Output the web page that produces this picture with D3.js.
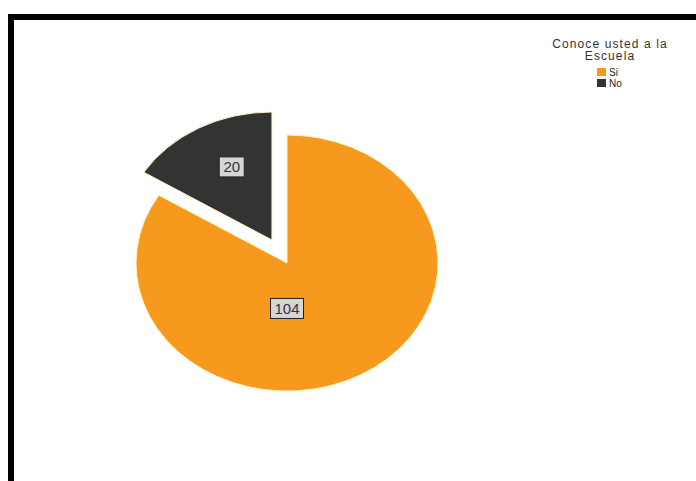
<!DOCTYPE html>
<html>
<head>
<meta charset="utf-8">
<script src="https://cdn.jsdelivr.net/npm/d3@7"></script>
<style>
  html, body { margin: 0; padding: 0; background: #fff; }
  svg { display: block; }
</style>
</head>
<body>
<svg id="chart" width="696" height="481"></svg>
<script>
// Survey answers: "Conoce usted a la Escuela"
const categories = ["Si", "No"];
const values = [104, 20];
const colors = ["#f7991c", "#333333"];
const legendTitle = ["Conoce usted a la", "Escuela"];

const W = 696, H = 481;
const svg = d3.select("#chart");

// Frame: heavy black rule along the top and left edges
svg.append("rect").attr("x", 8).attr("y", 14).attr("width", W - 8).attr("height", 6).attr("fill", "#000");
svg.append("rect").attr("x", 8).attr("y", 14).attr("width", 6).attr("height", H - 14).attr("fill", "#000");

// Pie geometry (tilted: vertical squash)
const cx = 287, cy = 263, R = 151, tilt = 0.848;
const explode = 31;          // offset of the separated slice
const smallLabelR = R * 0.63;
const bigLabelR = R * 0.355;

const pie = d3.pie().sort(null).value(d => d.value);
const arcs = pie(categories.map((c, i) => ({ name: c, value: values[i], color: colors[i] })));
const arc = d3.arc().innerRadius(0).outerRadius(R);

const g = svg.append("g").attr("transform", `translate(${cx},${cy}) scale(1,${tilt})`);

// the smallest slice is pulled out from the centre
const minVal = d3.min(values);
function sliceOffset(d) {
  if (d.data.value !== minVal) return [0, 0];
  const a = (d.startAngle + d.endAngle) / 2;
  return [Math.sin(a) * explode, -Math.cos(a) * explode];
}

g.selectAll("path.slice")
  .data(arcs)
  .join("path")
  .attr("class", "slice")
  .attr("d", arc)
  .attr("transform", d => { const o = sliceOffset(d); return `translate(${o[0]},${o[1]})`; })
  .attr("fill", d => d.data.color)
  .attr("stroke", "#fff4c4")
  .attr("stroke-width", 1)
  .attr("vector-effect", "non-scaling-stroke");

// Value labels in grey boxes
function labelPos(d) {
  const o = sliceOffset(d);
  const span = d.endAngle - d.startAngle;
  let a, r;
  if (span > Math.PI) { a = Math.PI; r = bigLabelR; }   // large slice: label below the centre
  else { a = (d.startAngle + d.endAngle) / 2 + 0.07; r = smallLabelR; }
  return [cx + o[0] + Math.sin(a) * r, cy + (o[1] - Math.cos(a) * r) * tilt];
}

const labels = svg.selectAll("g.vlabel")
  .data(arcs)
  .join("g")
  .attr("class", "vlabel")
  .attr("transform", d => { const p = labelPos(d); return `translate(${p[0]},${p[1]})`; });

labels.each(function(d) {
  const lg = d3.select(this);
  const box = lg.append("rect");
  const t = lg.append("text")
    .attr("text-anchor", "middle")
    .attr("dy", "0.36em")
    .attr("font-family", "Liberation Sans, Arial, sans-serif")
    .attr("font-size", 15)
    .attr("fill", "#333")
    .text(d.data.value);
  const bb = t.node().getBBox();
  const w = Math.round(bb.width) + 8, h = 20;
  box.attr("x", -w / 2).attr("y", -h / 2).attr("width", w).attr("height", h)
    .attr("fill", "#d6d6d6").attr("stroke", "#222").attr("stroke-width", 1);
});

// Legend
const lx = 610;
const lgTitle = svg.append("text")
  .attr("text-anchor", "middle")
  .attr("font-family", "Liberation Sans, Arial, sans-serif")
  .attr("font-size", 12)
  .attr("letter-spacing", 1.1)
  .attr("fill", "#333");
lgTitle.selectAll("tspan")
  .data(legendTitle)
  .join("tspan")
  .attr("x", lx)
  .attr("y", (d, i) => 48 + i * 11.5)
  .text(d => d);

const items = svg.selectAll("g.litem")
  .data(categories)
  .join("g")
  .attr("class", "litem")
  .attr("transform", (d, i) => `translate(597,${68 + i * 11})`);
items.append("rect").attr("width", 9).attr("height", 8).attr("fill", (d, i) => colors[i]);
items.append("text")
  .attr("x", 12).attr("y", 7.5)
  .attr("font-family", "Liberation Sans, Arial, sans-serif")
  .attr("font-size", 10)
  .attr("fill", "#222")
  .text(d => d);
</script>
</body>
</html>
